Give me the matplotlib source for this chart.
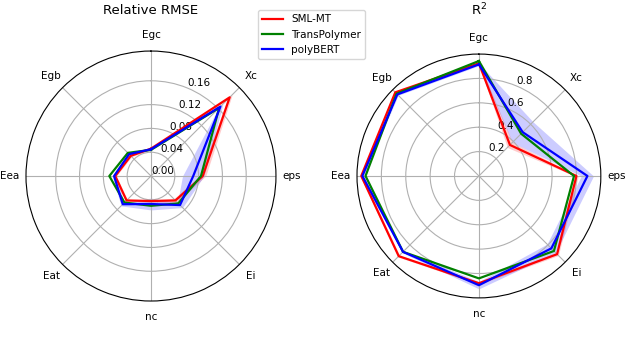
import numpy as np
import matplotlib.pyplot as plt

# properties, clockwise from the top
props = ['Egc', 'Xc', 'eps', 'Ei', 'nc', 'Eat', 'Eea', 'Egb']
models = ['SML-MT', 'TransPolymer', 'polyBERT']
colors = ['red', 'green', 'blue']

# relative RMSE (mean and std)
rmse_sml = [0.046, 0.187, 0.087, 0.058, 0.042, 0.058, 0.060, 0.048]
rmse_trans = [0.044, 0.162, 0.084, 0.065, 0.050, 0.063, 0.070, 0.055]
rmse_poly = [0.045, 0.165, 0.071, 0.069, 0.047, 0.067, 0.062, 0.052]
rmse_sml_std = [0.002, 0.006, 0.005, 0.004, 0.002, 0.002, 0.002, 0.002]
rmse_poly_std = [0.002, 0.006, 0.018, 0.006, 0.010, 0.004, 0.003, 0.002]

# R^2 (mean and std)
r2_sml = [0.924, 0.36, 0.80, 0.907, 0.88, 0.93, 0.965, 0.97]
r2_trans = [0.943, 0.49, 0.78, 0.87, 0.84, 0.88, 0.93, 0.955]
r2_poly = [0.915, 0.508, 0.89, 0.84, 0.896, 0.88, 0.956, 0.946]
r2_sml_std = [0.01, 0.03, 0.015, 0.015, 0.01, 0.01, 0.01, 0.01]
r2_poly_std = [0.01, 0.12, 0.05, 0.05, 0.03, 0.01, 0.01, 0.01]

angles = np.linspace(0, 2 * np.pi, len(props), endpoint=False)
theta = np.append(angles, angles[0])


def close(v):
    v = np.asarray(v, dtype=float)
    return np.append(v, v[0])


def radar(ax, means, stds, rmax, rticks):
    ax.set_theta_offset(np.pi / 2)
    ax.set_theta_direction(-1)
    for m, s, c, name in zip(means, stds, colors, models):
        ax.plot(theta, close(m), color=c, lw=1.6, label=name)
        if s is not None:
            ax.fill_between(theta, close(m) - close(s), close(m) + close(s),
                            color=c, alpha=0.2, lw=0)
    ax.set_xticks(angles)
    ax.set_xticklabels(props, fontsize=7.5)
    ax.tick_params(axis='x', pad=1)
    ax.set_ylim(0, rmax)
    ax.set_yticks(rticks)
    ax.set_yticklabels(['%g' % t if rmax > 0.5 else '%.2f' % t for t in rticks],
                       fontsize=7.5)
    ax.grid(color='#b0b0b0', lw=0.8)


fig = plt.figure(figsize=(6.4, 3.39), dpi=100)
ax1 = fig.add_axes([0.0406, 0.112, 0.3906, 0.7375], projection='polar')
ax2 = fig.add_axes([0.5578, 0.121, 0.381, 0.7198], projection='polar')

radar(ax1, [rmse_sml, rmse_trans, rmse_poly], [rmse_sml_std, None, rmse_poly_std],
      0.21, [0.0, 0.04, 0.08, 0.12, 0.16])
radar(ax2, [r2_sml, r2_trans, r2_poly], [r2_sml_std, None, r2_poly_std],
      1.0, [0.2, 0.4, 0.6, 0.8])

fig.text(151 / 640, 1 - 10 / 339, 'Relative RMSE', ha='center', va='center', fontsize=9.5)
fig.text(479 / 640, 1 - 10 / 339, 'R$^2$', ha='center', va='center', fontsize=9.5)

handles, labels = ax1.get_legend_handles_labels()
fig.legend(handles, labels, loc='upper center', bbox_to_anchor=(0.487, 0.985),
           fontsize=7.5)

fig.savefig('out.png', dpi=100)
